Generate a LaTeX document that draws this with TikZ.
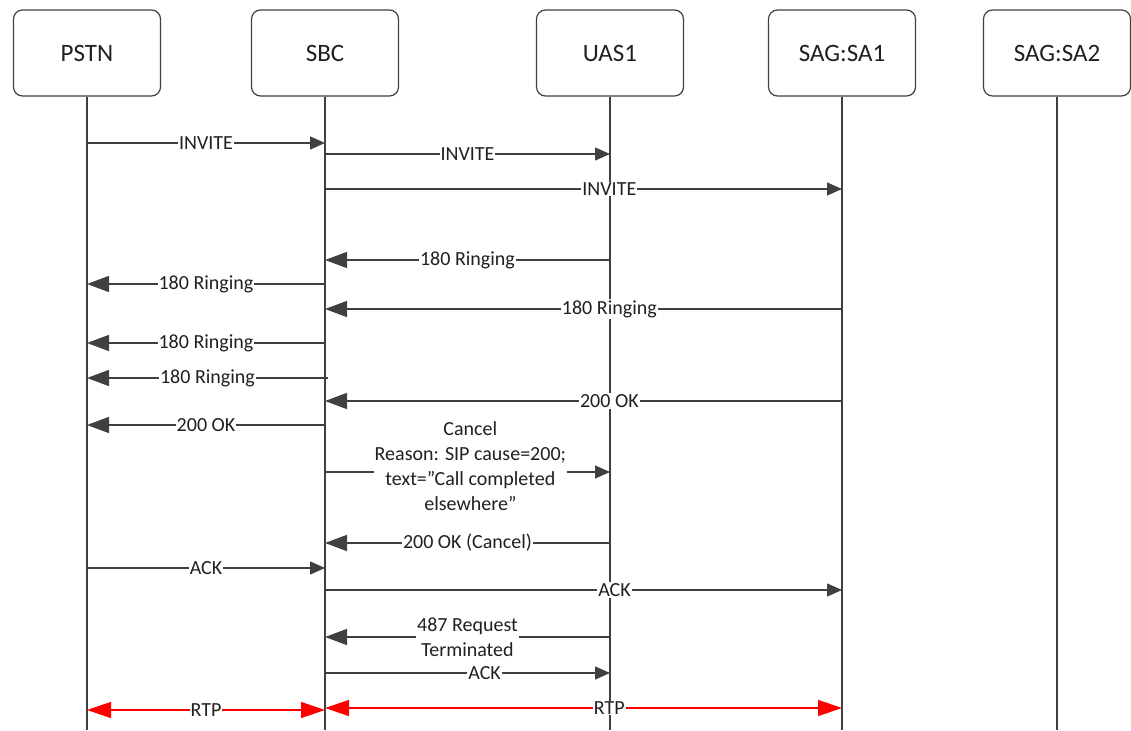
\documentclass[tikz,border=0pt]{standalone}
\usepackage{fontspec}
\setmainfont{Carlito}
\usetikzlibrary{arrows.meta}

\definecolor{linegray}{HTML}{404040}
\definecolor{txtgray}{HTML}{202020}

\begin{document}
\begin{tikzpicture}[x=1pt,y=-1pt,
  every node/.append style={font=\fontsize{20}{25}\selectfont,text=txtgray},
  actor/.style={draw=linegray,line width=1.2pt,rounded corners=9pt,minimum width=147pt,minimum height=86pt,font=\fontsize{25}{30}\selectfont},
  life/.style={draw=linegray,line width=1.6pt},
  msgR/.style={draw=linegray,line width=1.4pt,-{Triangle[length=15pt,width=13pt]}},
  msgL/.style={draw=linegray,line width=1.4pt,-{Triangle[length=22pt,width=16pt]}},
  rtp/.style={draw=red,line width=1.4pt,{Triangle[length=24pt,width=16pt]}-{Triangle[length=24pt,width=16pt]}},
  lbl/.style={fill=white,inner sep=1pt}]
  \useasboundingbox (0,0) rectangle (1131,730);

  % actors
  \node[actor] (pstn) at (87,53) {PSTN};
  \node[actor] (sbc) at (325,53) {SBC};
  \node[actor] (uas) at (610,53) {UAS1};
  \node[actor] (saA) at (842,53) {SAG:SA1};
  \node[actor] (saB) at (1057,53) {SAG:SA2};

  % lifelines
  \draw[life] (pstn.south) -- (pstn |- 0,730);
  \draw[life] (sbc.south) -- (sbc |- 0,730);
  \draw[life] (uas.south) -- (uas |- 0,730);
  \draw[life] (saA.south) -- (saA |- 0,730);
  \draw[life] (saB.south) -- (saB |- 0,730);

  % invite
  \draw[msgR] (pstn |- 0,143) -- node[lbl]{INVITE} (sbc |- 0,143);
  \draw[msgR] (sbc |- 0,154) -- node[lbl]{INVITE} (uas |- 0,154);
  \draw[msgR] (sbc |- 0,189) -- node[lbl,pos=0.55]{INVITE} (saA |- 0,189);

  % ringing
  \draw[msgL] (uas |- 0,260) -- node[lbl]{180 Ringing} (sbc |- 0,260);
  \draw[msgL] (sbc |- 0,284) -- node[lbl]{180 Ringing} (pstn |- 0,284);
  \draw[msgL] (saA |- 0,309) -- node[lbl,pos=0.45]{180 Ringing} (sbc |- 0,309);
  \draw[msgL] (sbc |- 0,343) -- node[lbl]{180 Ringing} (pstn |- 0,343);
  \draw[msgL] ([xshift=3pt]sbc |- 0,378) -- node[lbl]{180 Ringing} (pstn |- 0,378);

  % answer and cancel
  \draw[msgL] (saA |- 0,401) -- node[lbl,pos=0.45]{200 OK} (sbc |- 0,401);
  \draw[msgL] (sbc |- 0,425) -- node[lbl]{200 OK} (pstn |- 0,425);
  \draw[msgR] (sbc |- 0,472) -- node[lbl,align=center,pos=0.51,yshift=6pt]
    {Cancel\\Reason: SIP cause=200;\\text=”Call completed\\elsewhere”} (uas |- 0,472);
  \draw[msgL] (uas |- 0,543) -- node[lbl]{200 OK (Cancel)} (sbc |- 0,543);
  \draw[msgR] (pstn |- 0,568) -- node[lbl]{ACK} (sbc |- 0,568);
  \draw[msgR] (sbc |- 0,590) -- node[lbl,pos=0.56]{ACK} (saA |- 0,590);
  \draw[msgL] (uas |- 0,637) -- node[lbl,align=center]{487 Request\\Terminated} (sbc |- 0,637);
  \draw[msgR] (sbc |- 0,673) -- node[lbl,pos=0.56]{ACK} (uas |- 0,673);

  % media
  \draw[rtp] (pstn |- 0,710) -- node[lbl]{RTP} (sbc |- 0,710);
  \draw[rtp] (sbc |- 0,708) -- node[lbl,pos=0.55]{RTP} (saA |- 0,708);
\end{tikzpicture}
\end{document}
